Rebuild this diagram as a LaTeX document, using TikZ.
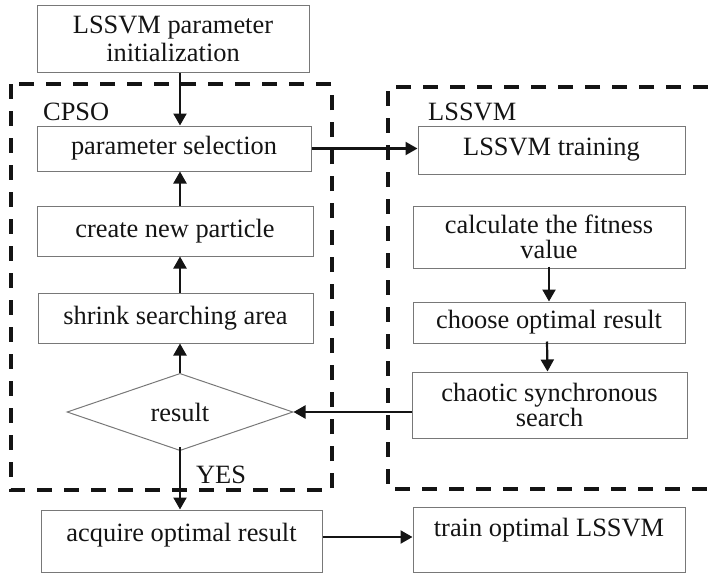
\documentclass[tikz,border=0pt]{standalone}
\usepackage{fontspec}
\setmainfont{Liberation Serif}
\usetikzlibrary{arrows.meta,shapes.geometric}
\definecolor{boxgray}{RGB}{120,120,120}
\definecolor{ink}{RGB}{20,20,20}
\tikzset{
  boxnode/.style={draw=boxgray, line width=1pt, inner sep=0pt, align=center, text=ink,
    font=\fontsize{26.4}{28}\selectfont},
  tightbox/.style={boxnode, font=\fontsize{26.4}{25}\selectfont},
  arr/.style={line width=2.2pt, draw=ink, -{Triangle[length=12pt,width=13pt]}},
  groupline/.style={line width=4pt, draw=ink, dash pattern=on 15pt off 12pt},
  grouplabel/.style={anchor=west, inner sep=0pt, text=ink, font=\fontsize{26.4}{28}\selectfont}
}
\begin{document}
\begin{tikzpicture}[x=1pt,y=-1pt]
\useasboundingbox (0,0) rectangle (708,573);
% group frames
\draw[groupline] (11,84) rectangle (332,490);
\draw[groupline] (708,87) -- (388,87) -- (388,489) -- (708,489);
\node[grouplabel] (cpso) at (43,112) {CPSO};
\node[grouplabel] (lssvmlab) at (428,112) {LSSVM};
% left column
\node[boxnode, minimum width=272pt, minimum height=67pt] (init) at (173,38.5) {LSSVM parameter\\initialization};
\node[boxnode, minimum width=274pt, minimum height=45pt] (param) at (174,148.5) {parameter selection};
\node[boxnode, minimum width=276pt, minimum height=50pt] (create) at (175,231) {create new particle};
\node[boxnode, minimum width=275pt, minimum height=50pt] (shrink) at (175.5,318) {shrink searching area};
\node[boxnode, diamond, minimum width=226pt, minimum height=67pt] (dia) at (180,412) {result};
\node[boxnode, minimum width=281pt, text height=31pt, text depth=31pt] (acq) at (181.5,541) {acquire optimal result};
% right column
\node[boxnode, minimum width=267pt, minimum height=48pt] (train) at (551.5,150) {LSSVM training};
\node[tightbox, minimum width=272pt, minimum height=62pt] (calc) at (549,237) {calculate the fitness\\value};
\node[boxnode, minimum width=272pt, minimum height=41pt] (choose) at (549,322.5) {choose optimal result};
\node[tightbox, minimum width=275pt, minimum height=66pt] (chaos) at (549.5,405) {chaotic synchronous\\search};
\node[boxnode, minimum width=272pt, text height=29pt, text depth=36pt] (final) at (549,539.5) {train optimal LSSVM};
% connectors
\draw[arr] (init.south -| dia.north) -- (param.north -| dia.north);
\draw[arr] (create.north -| dia.north) -- (param.south -| dia.north);
\draw[arr] (shrink.north -| dia.north) -- (create.south -| dia.north);
\draw[arr] (dia.north) -- (shrink.south -| dia.north);
\draw[arr] (param.east) -- (param.east -| train.west);
\draw[arr] ([yshift=2pt]calc.south) -- (choose.north);
\draw[arr] ([xshift=-2pt,yshift=2pt]choose.south) -- ([xshift=-2pt]chaos.north);
\draw[arr] (chaos.west |- dia.east) -- (dia.east);
\draw[arr] ([yshift=4pt]dia.south) -- (acq.north -| dia.south) node[pos=0.45, anchor=west, inner sep=0pt, xshift=15pt, text=ink, font=\fontsize{26.4}{28}\selectfont] (yes) {YES};
\draw[arr] ([yshift=4pt]acq.east) -- ([yshift=4pt]acq.east -| final.west);
\end{tikzpicture}
\end{document}
